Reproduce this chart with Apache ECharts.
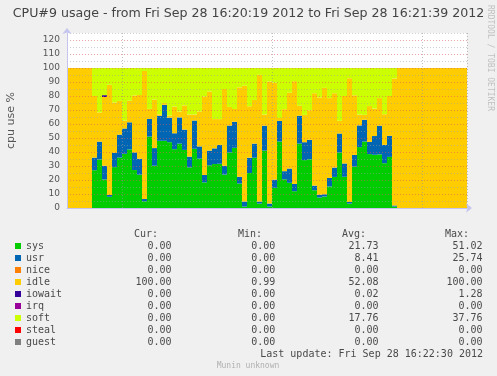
<!DOCTYPE html>
<html><head><meta charset="utf-8">
<script src="https://cdn.jsdelivr.net/npm/echarts@6/dist/echarts.min.js"></script>
<style>html,body{margin:0;padding:0;background:#f0f0f0}#c{width:497px;height:376px}</style>
</head><body><div id="c"></div>
<script>
// time categories: one per second, 16:20:19 .. 16:21:38
const startSec = 16 * 3600 + 20 * 60 + 19;
const times = [];
for (let k = 0; k < 80; k++) {
  const s = startSec + k;
  const hh = Math.floor(s / 3600), mm = Math.floor((s % 3600) / 60), ss = s % 60;
  times.push(hh + ':' + String(mm).padStart(2, '0') + ':' + String(ss).padStart(2, '0'));
}

const sys = [0,0,0,0,0,
  27,34.7,20.4,8,29.2,36,38.7,41.8,27.1,23.8,
  4.8,51,30.2,48,48,47,42,46,41.5,29,
  42.3,35.3,18.3,30.5,31.4,31.6,23.9,39.7,43,17.5,
  1,25,35.9,3.2,41,1.1,14.4,47.5,20.5,18,
  12,46,34.2,34.8,12.7,7.5,8.2,15.4,22.2,39.7,
  22.3,3.2,29.6,43.5,47.5,38.5,38,38.3,32,36.5,
  1,
  0,0,0,0,0,0,0,0,0,0,0,0,0,0];
const usr = [0,0,0,0,0,
  9,12.7,9.8,1.3,10.2,16.4,18.1,19.4,12.6,11.4,
  1.6,12.6,12.6,17.9,25.7,17.5,11.4,18.7,14.5,7.7,
  20.2,8.7,5.3,10.5,11.2,13.5,6.3,19.2,18.6,4.8,
  3.6,10.9,10.1,1.4,17.8,2.1,5.9,14.7,5.8,10.2,
  5.2,19.9,12.8,13.9,3.3,2,1.6,6.1,6.7,13.5,
  9.5,1.1,8.3,15.5,15.5,8.7,13.4,20.5,13.1,15.1,
  0.8,
  0,0,0,0,0,0,0,0,0,0,0,0,0,0];
const idle = [100,100,100,100,100,
  44,20.9,49.1,78.7,36,24.1,5.6,15.4,40.7,45.5,
  91.5,7.2,34.6,1,1.3,1.5,19,4.2,17.3,30.1,
  4.3,25,56,42.2,20.9,18.4,54.8,13.3,9.1,63.9,
  82.7,36.8,31.2,90.5,8,87.1,69.2,2.1,44.3,54.1,
  73.4,7.1,19.5,21.1,66,69.5,76,57,53.1,9.1,
  48.2,88.4,42.6,7.7,3.5,25.6,19.6,19.7,21.9,28.4,
  90.7,
  100,100,100,100,100,100,100,100,100,100,100,100,100,100];
const iowait = [0,0,0,0,0,
  0,0,1.3,0,0,0,0,0,0,0,
  0,0,0,0,0,0,0,0,0,0,
  0,0,0,0,0,0,0,0,0,0,
  0,0,0,0,0,0,0,0,0,0,
  0,0,0,0,0,0,0,0,0,0,
  0,0,0,0,0,0,0,0,0,0,
  0,
  0,0,0,0,0,0,0,0,0,0,0,0,0,0];
const soft = [0,0,0,0,0,
  20,31.7,19.4,12,24.6,23.5,37.6,23.4,19.6,19.3,
  2.1,29.2,22.6,33.1,25,34,27.6,31.1,26.7,33.2,
  33.2,31,20.4,16.8,36.5,36.5,15,27.8,29.3,13.8,
  12.7,27.3,22.8,4.9,33.2,9.7,10.5,35.7,29.4,17.7,
  9.4,27,33.5,30.2,18,21,14.2,21.5,18,37.7,
  20,7.3,19.5,33.3,33.5,27.2,29,21.5,33,20,
  7.5,
  0,0,0,0,0,0,0,0,0,0,0,0,0,0];

const seriesNames = ['sys','usr','nice','idle','iowait','irq','soft','steal','guest'];
const seriesColors = ['#00CC00','#0066B3','#FF8000','#FFCC00','#330099','#990099','#CCFF00','#FF0000','#808080'];
const seriesData = {sys: sys, usr: usr, nice: [], idle: idle, iowait: iowait, irq: [], soft: soft, steal: [], guest: []};

const statCur = ['0.00','0.00','0.00','100.00','0.00','0.00','0.00','0.00','0.00'];
const statMin = ['0.00','0.00','0.00','0.99','0.00','0.00','0.00','0.00','0.00'];
const statAvg = ['21.73','8.41','0.00','52.08','0.02','0.00','17.76','0.00','0.00'];
const statMax = ['51.02','25.74','0.00','100.00','1.28','0.00','37.76','0.00','0.00'];
const statHeaders = ['Cur:','Min:','Avg:','Max:'];

const titleText = 'CPU#9 usage - from Fri Sep 28 16:20:19 2012 to Fri Sep 28 16:21:39 2012';
const lastUpdate = 'Last update: Fri Sep 28 16:22:30 2012';

const mono = '"DejaVu Sans Mono", monospace';
const sans = '"DejaVu Sans", sans-serif';
const txtColor = '#4a4a4a';

const chart = echarts.init(document.getElementById('c'), null, {renderer: 'canvas'});

const series = seriesNames.map((n, i) => ({
  name: n, type: 'bar', stack: 'cpu', data: seriesData[n],
  barCategoryGap: '0%', itemStyle: {color: seriesColors[i]},
  animation: false, silent: true
}));

const headerX = [158, 262, 366, 469];

chart.setOption({
  backgroundColor: '#f0f0f0',
  animation: false,
  color: seriesColors,
  title: {
    text: titleText, left: 'center', top: 7, padding: 0,
    textStyle: {fontFamily: sans, fontSize: 12.6, fontWeight: 'normal', color: '#444'}
  },
  grid: {left: 67, top: 33, width: 400, height: 175, show: true, backgroundColor: '#ffffff', borderWidth: 0,
    containLabel: false, outerBoundsMode: 'none'},
  xAxis: {
    type: 'category', data: times, boundaryGap: true, z: 3,
    axisLabel: {show: false}, axisTick: {show: false},
    axisLine: {show: true, lineStyle: {color: '#c4c4ee', width: 1}, symbol: ['none', 'arrow'], symbolSize: [7, 6], symbolOffset: [0, 5]},
    splitLine: {show: true, interval: (idx, val) => /:(00|30)$/.test(val),
      lineStyle: {color: 'rgba(150,150,150,0.6)', type: [1, 2], width: 1}}
  },
  yAxis: {
    type: 'value', min: 0, max: 125, interval: 5, z: 3,
    name: 'cpu use %', nameLocation: 'middle', nameGap: 50, nameRotate: 90,
    nameTextStyle: {fontFamily: sans, fontSize: 11, color: '#555'},
    axisLabel: {fontFamily: sans, fontSize: 9, color: '#555', margin: 7,
      formatter: v => (v % 10 === 0 && v <= 120) ? String(v) : ''},
    axisTick: {show: false},
    axisLine: {show: true, lineStyle: {color: '#c4c4ee', width: 1}, symbol: ['none', 'arrow'], symbolSize: [7, 6], symbolOffset: [0, 5]},
    splitLine: {show: true, lineStyle: {color: ['rgba(220,90,90,0.55)', 'rgba(160,160,160,0.5)'], type: [1, 2], width: 1}}
  },
  legend: {
    orient: 'vertical', left: 15, top: 240, itemGap: 0, itemWidth: 6, itemHeight: 6,
    icon: 'rect', selectedMode: false, padding: 0,
    data: seriesNames,
    formatter: name => {
      const i = seriesNames.indexOf(name);
      return '{n|' + name + '}{c|' + statCur[i] + '}{m|' + statMin[i] + '}{a|' + statAvg[i] + '}{x|' + statMax[i] + '}';
    },
    textStyle: {
      fontFamily: mono, fontSize: 10, color: txtColor, lineHeight: 12,
      rich: {
        n: {width: 40, align: 'left', fontFamily: mono, fontSize: 10, color: txtColor, lineHeight: 12},
        c: {width: 105.6, align: 'right', fontFamily: mono, fontSize: 10, color: txtColor, lineHeight: 12},
        m: {width: 103.7, align: 'right', fontFamily: mono, fontSize: 10, color: txtColor, lineHeight: 12},
        a: {width: 103.3, align: 'right', fontFamily: mono, fontSize: 10, color: txtColor, lineHeight: 12},
        x: {width: 104, align: 'right', fontFamily: mono, fontSize: 10, color: txtColor, lineHeight: 12}
      }
    }
  },
  graphic: [
    ...statHeaders.map((h, i) => ({
      type: 'text', x: headerX[i], y: 234,
      style: {text: h, align: 'right', verticalAlign: 'middle', font: '10px ' + mono, fill: txtColor}
    })),
    {type: 'text', x: 483, y: 354, style: {text: lastUpdate, align: 'right', verticalAlign: 'middle', font: '10px ' + mono, fill: txtColor}},
    {type: 'text', x: 248, y: 366, style: {text: 'Munin unknown', align: 'center', verticalAlign: 'middle', font: '8px ' + mono, fill: '#b0b0b0'}},
    {type: 'text', x: 490, y: 58, rotation: -Math.PI / 2,
      style: {text: 'RRDTOOL / TOBI OETIKER', align: 'center', verticalAlign: 'middle', font: '8px ' + mono, fill: '#c0c0c0'}}
  ],
  series: series
});
</script>
</body></html>
